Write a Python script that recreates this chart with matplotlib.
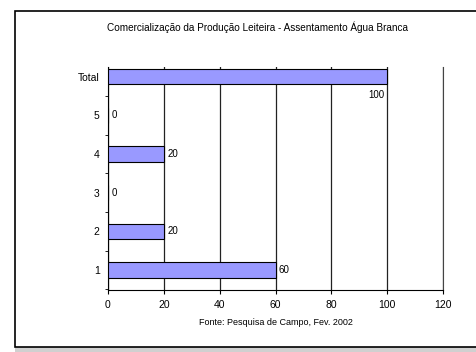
import matplotlib.pyplot as plt
from matplotlib.patches import Rectangle

categories = ["1", "2", "3", "4", "5", "Total"]
values = [60, 20, 0, 20, 0, 100]
x_ticks = [0, 20, 40, 60, 80, 100, 120]

title = "Comercialização da Produção Leiteira - Assentamento Água Branca"
source = "Fonte: Pesquisa de Campo, Fev. 2002"

plt.rcParams['font.family'] = ['Liberation Sans', 'DejaVu Sans']

fig = plt.figure(figsize=(4.77, 3.52), dpi=100)
W, H = 477, 352

# outer frame and grey band at the bottom
fig.patches.append(Rectangle((15 / W, 0), 1, 5 / H, transform=fig.transFigure,
                             facecolor="#d0d0d0", edgecolor="none", zorder=-2))
fig.patches.append(Rectangle((15.5 / W, 5.5 / H), 1, 336 / H, transform=fig.transFigure,
                             facecolor="white", edgecolor="black", linewidth=1.2, zorder=-1))

ax = fig.add_axes([108 / W, 1 - 290 / H, (443 - 108) / W, (290 - 67) / H])
ax.set_facecolor("none")
ypos = range(len(categories))
ax.barh(ypos, values, height=0.4, color="#9999ff", edgecolor="black", linewidth=0.8, zorder=3)

for y, v in zip(ypos, values):
    if categories[y] == "Total":
        ax.text(v - 1, y - 0.48, str(v), ha="right", va="center", fontsize=7, zorder=4)
    else:
        ax.text(v + 1.2, y, str(v), ha="left", va="center", fontsize=7, zorder=4)

ax.set_xlim(0, 120)
ax.set_ylim(-0.52, len(categories) - 0.75)
ax.set_xticks(x_ticks)
ax.set_yticks(list(ypos))
ax.set_yticklabels(categories)
ax.set_yticks([i - 0.5 for i in range(len(categories))], minor=True)
ax.tick_params(axis="y", which="major", length=0, labelsize=7.5, pad=6)
ax.tick_params(axis="y", which="minor", length=2.5, direction="out")
ax.tick_params(axis="x", length=3, direction="out", labelsize=7.5, pad=4)
ax.xaxis.grid(True, color="#222222", linewidth=0.9, zorder=0)
ax.set_axisbelow(True)
ax.spines["top"].set_visible(False)
ax.spines["right"].set_color("#444444")
ax.set_xlabel(source, fontsize=6.5, labelpad=6)

fig.text(258 / W, 1 - 27 / H, title, ha="center", va="center", fontsize=7.2)

fig.savefig("out.png", dpi=100)
